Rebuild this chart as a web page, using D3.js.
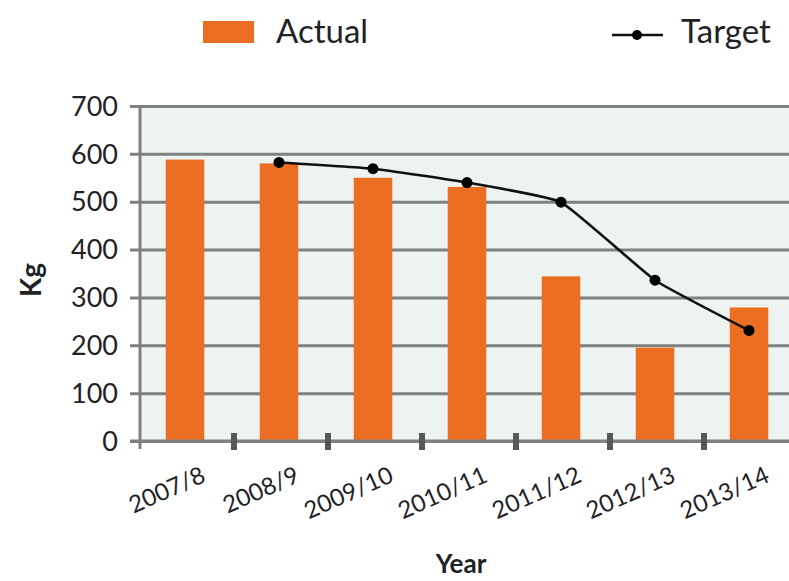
<!DOCTYPE html>
<html>
<head>
<meta charset="utf-8">
<script src="https://cdn.jsdelivr.net/npm/d3@7"></script>
<style>
  html, body { margin: 0; padding: 0; background: #ffffff; }
  svg { display: block; font-family: Lato, "Open Sans", sans-serif; }
</style>
</head>
<body>
<svg id="chart" width="789" height="581"></svg>
<script>
// Yearly waste figures (kg): actual totals against the reduction target
const years = ["2007/8", "2008/9", "2009/10", "2010/11", "2011/12", "2012/13", "2013/14"];
const actual = [588, 580, 550, 531, 344, 195, 279];
const targetYears = ["2008/9", "2009/10", "2010/11", "2011/12", "2012/13", "2013/14"];
const target = [582, 569, 540, 499, 336, 231];
const yTicks = [0, 100, 200, 300, 400, 500, 600, 700];

const svg = d3.select("#chart");
const plotLeft = 140, plotTop = 106, plotBottom = 441, step = 94;

const x = d3.scaleBand().domain(years).range([plotLeft, plotLeft + step * years.length]).padding(0);
const y = d3.scaleLinear().domain([0, 700]).range([plotBottom, plotTop]);

const orange = "#eb6e22";
const gridColor = "#7d8180";
const textColor = "#1f2326";

// plot background
svg.append("rect")
  .attr("x", plotLeft).attr("y", plotTop)
  .attr("width", 789 - plotLeft).attr("height", plotBottom - plotTop)
  .attr("fill", "#edf3f1");

// horizontal gridlines with short ticks left of the axis
const yAxis = d3.axisLeft(y).tickValues(yTicks).tickSize(-(789 - plotLeft)).tickPadding(0).tickFormat("");
const gy = svg.append("g").attr("transform", `translate(${plotLeft},0)`).call(yAxis);
gy.select(".domain").remove();
gy.selectAll(".tick line")
  .attr("x1", -10)
  .attr("stroke", gridColor).attr("stroke-width", 3);

// y tick labels
svg.append("g").selectAll("text").data(yTicks).join("text")
  .attr("x", 118).attr("y", d => y(d))
  .attr("dy", "0.36em")
  .attr("text-anchor", "end")
  .attr("font-size", 27)
  .attr("fill", textColor)
  .text(d => d);

// vertical axis line
svg.append("line")
  .attr("x1", plotLeft).attr("x2", plotLeft)
  .attr("y1", plotTop - 1).attr("y2", plotBottom + 8)
  .attr("stroke", gridColor).attr("stroke-width", 3);

// bars
const barW = x.bandwidth() * 0.41;
svg.append("g").selectAll("rect").data(years).join("rect")
  .attr("x", d => x(d) + x.bandwidth() / 2 - barW / 2 - 2)
  .attr("y", (d, i) => y(actual[i]))
  .attr("width", barW)
  .attr("height", (d, i) => y(0) - y(actual[i]))
  .attr("fill", orange);

// x axis line and category boundary ticks
svg.append("line")
  .attr("x1", plotLeft - 10).attr("x2", 789)
  .attr("y1", plotBottom).attr("y2", plotBottom)
  .attr("stroke", gridColor).attr("stroke-width", 3);
svg.append("g").selectAll("rect").data(years.slice(1)).join("rect")
  .attr("x", d => x(d) - 3)
  .attr("y", plotBottom - 8)
  .attr("width", 6).attr("height", 17)
  .attr("fill", "#555a59");

// target line
const tx = (d, i) => x(targetYears[i]) + x.bandwidth() / 2 - 2;
const line = d3.line()
  .x(tx)
  .y(d => y(d))
  .curve(d3.curveCardinal.tension(0.65));
svg.append("path")
  .datum(target)
  .attr("d", line)
  .attr("fill", "none")
  .attr("stroke", "#111")
  .attr("stroke-width", 2.6);
svg.append("g").selectAll("circle").data(target).join("circle")
  .attr("cx", tx)
  .attr("cy", d => y(d))
  .attr("r", 5.5)
  .attr("fill", "#000");

// x tick labels, slanted
svg.append("g").selectAll("text").data(years).join("text")
  .attr("transform", d => `translate(${x(d) + x.bandwidth() / 2 + 20},${481}) rotate(-24)`)
  .attr("text-anchor", "end")
  .attr("font-size", 24)
  .attr("fill", textColor)
  .text(d => d);

// axis titles
svg.append("text")
  .attr("transform", "translate(41,280) rotate(-90)")
  .attr("text-anchor", "middle")
  .attr("font-size", 28)
  .attr("font-weight", "bold")
  .attr("fill", textColor)
  .text("Kg");
svg.append("text")
  .attr("x", 461).attr("y", 573)
  .attr("text-anchor", "middle")
  .attr("font-size", 26)
  .attr("font-weight", "bold")
  .attr("fill", textColor)
  .text("Year");

// legend
const legend = svg.append("g");
legend.append("rect")
  .attr("x", 203).attr("y", 21).attr("width", 51).attr("height", 22)
  .attr("fill", orange);
legend.append("text")
  .attr("x", 276).attr("y", 43)
  .attr("font-size", 33)
  .attr("fill", textColor)
  .text("Actual");
legend.append("line")
  .attr("x1", 612).attr("x2", 663).attr("y1", 35).attr("y2", 35)
  .attr("stroke", "#111").attr("stroke-width", 2.6);
legend.append("circle")
  .attr("cx", 637).attr("cy", 35).attr("r", 5)
  .attr("fill", "#000");
legend.append("text")
  .attr("x", 681).attr("y", 43)
  .attr("font-size", 33)
  .attr("fill", textColor)
  .text("Target");
</script>
</body>
</html>
